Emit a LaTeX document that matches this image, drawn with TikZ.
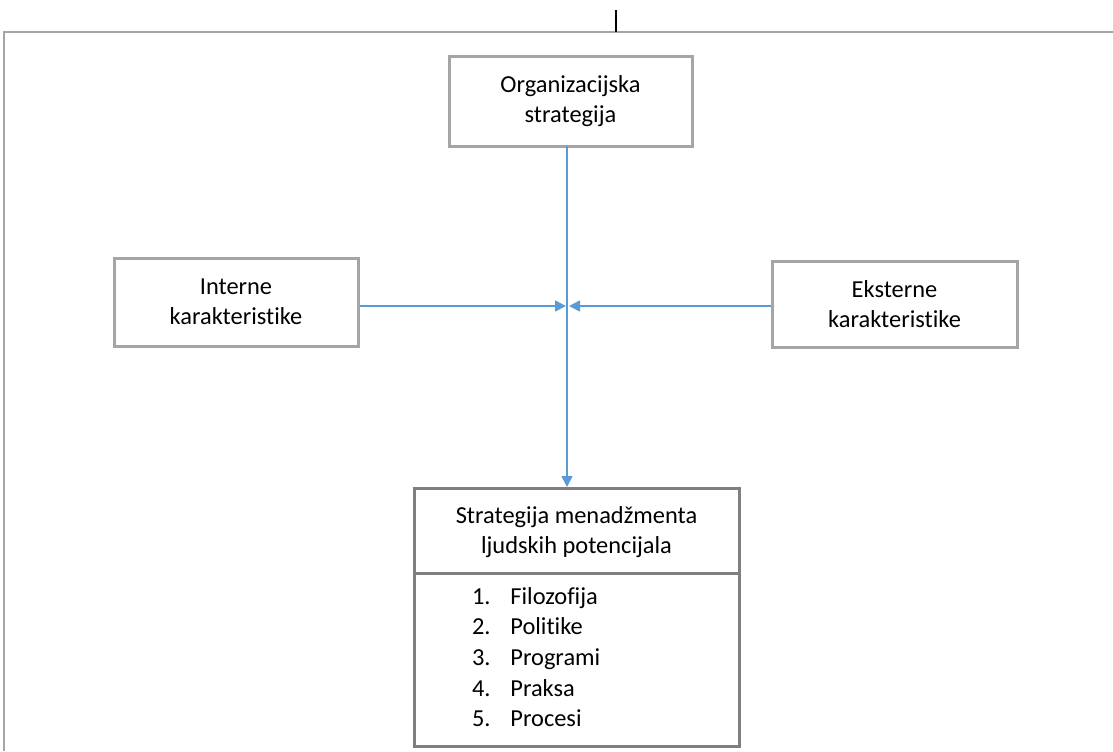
\documentclass[tikz,border=0pt]{standalone}
\usepackage{fontspec}
\setmainfont{Carlito}[Ligatures=NoCommon]
\usetikzlibrary{arrows.meta}
\definecolor{boxgray}{HTML}{A5A5A5}
\definecolor{darkgray2}{HTML}{7F7F7F}
\definecolor{arrowblue}{HTML}{5B9BD5}
\begin{document}
\begin{tikzpicture}[x=0.5pt,y=-0.5pt,
  box/.style={draw=boxgray, line width=1.5pt, fill=white, align=center, inner sep=0pt, font=\fontsize{12.2}{15.25}\selectfont},
  lbl/.style={align=center, inner sep=0pt, font=\fontsize{12.2}{15.25}\selectfont},
  item/.style={inner sep=0pt, text height=8.5pt, text depth=2.5pt, font=\fontsize{12.2}{15.25}\selectfont},
  conn/.style={draw=arrowblue, line width=0.8pt},
  tip/.style={-{Triangle[length=5.5pt,width=5.5pt]}}]
\useasboundingbox (0,0) rectangle (1113,751);
% outer frame
\draw[boxgray, line width=1pt] (4,751) -- (4,32) -- (1113,32);
\draw[black, line width=0.7pt] (616,10) -- (616,32);
% boxes
\node[box, minimum width=121.5pt, minimum height=45pt] (org) at (570.5,101) {Organizacijska\\strategija};
\node[box, minimum width=122pt, minimum height=44pt] (int) at (236,302) {Interne\\karakteristike};
\node[box, minimum width=122.5pt, minimum height=43pt] (ext) at (894.5,304) {Eksterne\\karakteristike};
\node[draw=darkgray2, line width=1.5pt, fill=white, minimum width=162.5pt, minimum height=129pt, inner sep=0pt] (hrm) at (576.5,617) {};
\coordinate (divL) at (414,573);
\coordinate (divR) at (739,573);
\draw[darkgray2, line width=1.5pt] (divL) -- (divR);
\node[lbl] (hrmtitle) at (576.5,532) {Strategija menadžmenta\\ljudskih potencijala};
\node[item, anchor=east] (n1) at (491,598) {1.};
\node[item, anchor=west] (t1) at (510,598) {Filozofija};
\node[item, anchor=east] (n2) at (491,628) {2.};
\node[item, anchor=west] (t2) at (510,628) {Politike};
\node[item, anchor=east] (n3) at (491,659) {3.};
\node[item, anchor=west] (t3) at (510,659) {Programi};
\node[item, anchor=east] (n4) at (491,690) {4.};
\node[item, anchor=west] (t4) at (510,690) {Praksa};
\node[item, anchor=east] (n5) at (491,720) {5.};
\node[item, anchor=west] (t5) at (510,720) {Procesi};
% connectors
\coordinate (vtop) at (567,146);
\coordinate (vbot) at (567,487);
\coordinate (cl) at (566,306);
\coordinate (cr) at (569,306);
\draw[conn, tip] (vtop) -- (vbot);
\draw[conn, tip] (int.east |- cl) -- (cl);
\draw[conn, tip] (ext.west |- cr) -- (cr);
\end{tikzpicture}
\end{document}
